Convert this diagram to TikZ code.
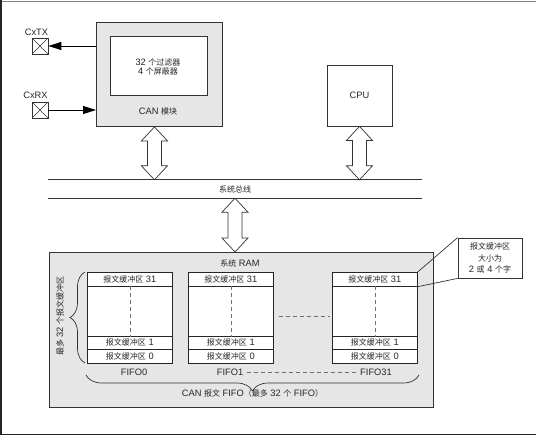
\documentclass[tikz,border=0pt]{standalone}
\usepackage{fontspec}
\setmainfont{Liberation Sans}
\newfontfamily\cjk[Scale=0.86]{Noto Sans CJK SC}
\usetikzlibrary{decorations.pathreplacing,arrows.meta,calc}
\newcommand\zh[1]{{\cjk #1}}
\definecolor{boxgray}{HTML}{E6E6E6}
\definecolor{linegray}{HTML}{333333}
\definecolor{dashgray}{HTML}{707070}
\newcommand\hollowarrow[2]{%
  \draw[hollowstyle] let \p1=(#1), \p2=(#2) in
    (\x1,\y1) -- (\x1+13pt,\y1-14pt) -- (\x1+7pt,\y1-14pt) -- (\x1+7pt,\y2+14pt)
    -- (\x1+13pt,\y2+14pt) -- (\x1,\y2) -- (\x1-13pt,\y2+14pt) -- (\x1-7pt,\y2+14pt)
    -- (\x1-7pt,\y1-14pt) -- (\x1-13pt,\y1-14pt) -- cycle;}
\newcommand\fifocol[2]{%
  \node[cell, minimum height=14] (#1r31) at (#2,272) {\zh{报文缓冲区} 31};
  \node[cell, minimum height=50] (#1mid) at (#2,286) {};
  \node[cell, minimum height=13] (#1r1) at (#2,336) {\zh{报文缓冲区} 1};
  \node[cell, minimum height=14] (#1r0) at (#2,349) {\zh{报文缓冲区} 0};
  \draw[dashed, dash pattern=on 4pt off 3pt, dashgray] (#1mid.north) -- (#1mid.south);}
\begin{document}
\begin{tikzpicture}[x=1pt,y=-1pt,
  font=\fontsize{9.3}{10.5}\selectfont,
  every node/.style={text=black!85},
  hollowstyle/.style={draw=linegray, fill=white, line width=0.7pt, line join=miter},
  pinbox/.style={draw=linegray, line width=0.7pt, minimum size=16pt, inner sep=0pt,
    path picture={\draw[linegray, line width=0.6pt] (path picture bounding box.north west) -- (path picture bounding box.south east)
      (path picture bounding box.north east) -- (path picture bounding box.south west);}},
  sig/.style={draw=black, line width=0.8pt, -{Triangle[length=13pt,width=8pt]}},
  cell/.style={draw=black!85, fill=white, line width=0.7pt, minimum width=85pt, inner sep=0pt, anchor=north west},
  graybox/.style={draw=linegray, fill=boxgray, line width=0.9pt, inner sep=0pt, anchor=north west}]
\useasboundingbox (0,0) rectangle (536,436);
% frame
\draw[black!50, line width=1.2pt] (0,1.5) -- (536,1.5);
\draw[black!85, line width=1.5pt] (0.75,0) -- (0.75,434.5);
\draw[black!85, line width=1.2pt] (0,434.5) -- (536,434.5);
% CAN module
\node[graybox, minimum width=126pt, minimum height=104pt] (can) at (96,22) {};
\node[draw=linegray, fill=white, line width=0.8pt, minimum width=97pt, minimum height=59pt, anchor=north west] (filt) at (110,36) {};
\node[align=center] (filttext) at (158,66.5) {32 \zh{个过滤器}\\[-1.5pt]4 \zh{个屏蔽器}};
\node (canlab) at (158,111) {CAN \zh{模块}};
% pins
\node[pinbox] (tx) at (40,46) {};
\node (txlab) at (36.5,32) {CxTX};
\node[pinbox] (rx) at (40,110) {};
\node (rxlab) at (35.5,95) {CxRX};
\draw[sig] (can.west |- tx) -- (tx.east);
\draw[sig] (rx.east) -- (can.west |- rx);
% CPU
\node[draw=linegray, line width=0.8pt, minimum width=65pt, minimum height=61pt] (cpu) at (359.5,95.5) {CPU};
% bus
\node[minimum width=374pt, minimum height=18pt, inner sep=0pt] (bus) at (235,189) {\zh{系统总线}};
\draw[linegray, line width=0.8pt] (bus.north west) -- (bus.north east);
\draw[linegray, line width=0.8pt] (bus.south west) -- (bus.south east);
% RAM
\node[graybox, minimum width=384pt, minimum height=155pt] (ram) at (49,252) {};
\node (ramlab) at (240,263) {\zh{系统} RAM};
% arrows
\coordinate (a1t) at ([xshift=-5pt]can.south);
\coordinate (a1b) at (a1t |- bus.north);
\coordinate (a2t) at (cpu.south);
\coordinate (a2b) at (cpu.south |- bus.north);
\coordinate (a3t) at (bus.south);
\coordinate (a3b) at (bus.south |- ram.north);
\hollowarrow{a1t}{a1b}
\hollowarrow{a2t}{a2b}
\hollowarrow{a3t}{a3b}
% FIFOs
\fifocol{fa}{87}
\fifocol{fb}{188}
\fifocol{fc}{332}
\node (falab) at (134,372) {FIFO0};
\node (fblab) at (230,372) {FIFO1};
\node (fclab) at (376,372) {FIFO31};
\draw[dashgray, line width=0.8pt, dash pattern=on 4pt off 3pt] (fblab.east) -- (fclab.west);
\draw[dashgray, line width=0.8pt, dash pattern=on 4pt off 3pt] ([shift={(5,5)}]fbmid.east) -- ([shift={(-2,5)}]fcmid.west);
% braces
\draw[linegray, line width=0.7pt, decorate, decoration={brace, amplitude=16pt}] (419,375) -- (86,375)
  node[midway, below=14pt, inner sep=0pt] (fifolab) {CAN \zh{报文} FIFO\zh{（最多} 32 \zh{个} FIFO\zh{）}};
\draw[linegray, line width=0.7pt, decorate, decoration={brace, amplitude=15pt}] (85,363) -- (85,272);
\node[rotate=90] (buflab) at (60,316) {\zh{最多} 32 \zh{个报文缓冲区}};
% callout
\node[draw=linegray, fill=white, line width=0.8pt, align=center, minimum width=64pt, minimum height=40pt, inner sep=1pt,
  font=\fontsize{9.3}{11.5}\selectfont] (call) at (490,258) {\zh{报文缓冲区}\\\zh{大小为}\\2 \zh{或} 4 \zh{个字}};
\draw[linegray, line width=0.7pt] (fcr31.north east) -- (call.north west);
\draw[linegray, line width=0.7pt] (fcr31.south east) -- (call.south west);
\end{tikzpicture}
\end{document}
